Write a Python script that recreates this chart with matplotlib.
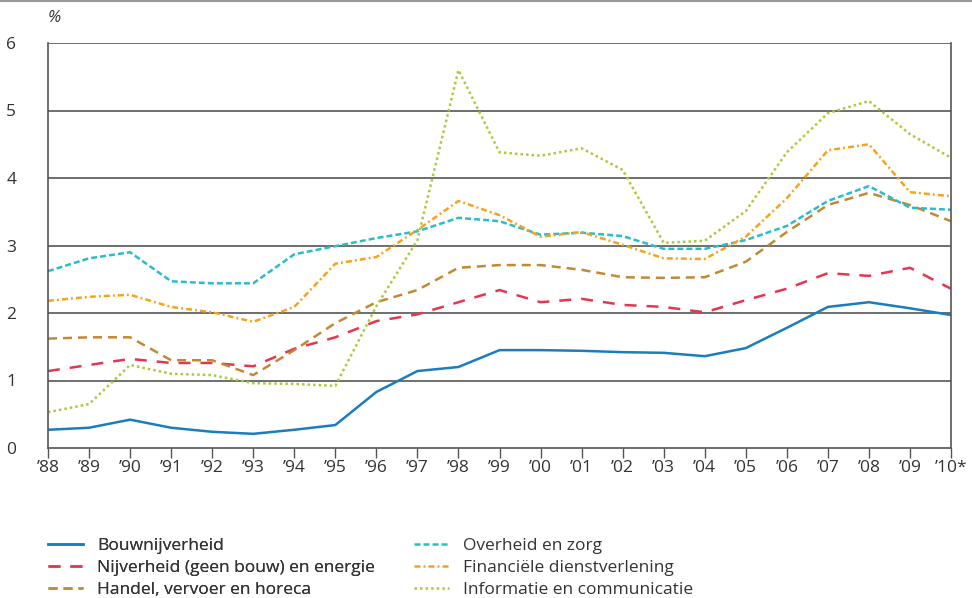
import matplotlib.pyplot as plt
import matplotlib.lines as mlines
import numpy as np

years = ["\u201988", "\u201989", "\u201990", "\u201991", "\u201992", "\u201993", "\u201994",
         "\u201995", "\u201996", "\u201997", "\u201998", "\u201999", "\u201900", "\u201901",
         "\u201902", "\u201903", "\u201904", "\u201905", "\u201906", "\u201907", "\u201908",
         "\u201909", "\u201910*"]

bouw = [0.27, 0.30, 0.42, 0.30, 0.24, 0.21, 0.27, 0.34, 0.83, 1.14, 1.20,
        1.45, 1.45, 1.44, 1.42, 1.41, 1.36, 1.48, 1.78, 2.09, 2.16, 2.07, 1.97]
nijverheid = [1.14, 1.23, 1.32, 1.26, 1.26, 1.21, 1.47, 1.64, 1.88, 1.98, 2.16,
              2.34, 2.16, 2.21, 2.12, 2.09, 2.01, 2.19, 2.36, 2.59, 2.55, 2.67, 2.36]
handel = [1.62, 1.64, 1.64, 1.30, 1.30, 1.08, 1.45, 1.85, 2.16, 2.34, 2.67,
          2.71, 2.71, 2.64, 2.53, 2.52, 2.53, 2.76, 3.20, 3.60, 3.78, 3.60, 3.36]
overheid = [2.62, 2.81, 2.90, 2.47, 2.44, 2.44, 2.87, 2.99, 3.11, 3.21, 3.41,
            3.36, 3.16, 3.19, 3.14, 2.95, 2.95, 3.08, 3.29, 3.66, 3.88, 3.56, 3.53]
financieel = [2.18, 2.24, 2.27, 2.09, 2.01, 1.87, 2.09, 2.73, 2.83, 3.23, 3.66,
              3.45, 3.13, 3.20, 3.01, 2.81, 2.80, 3.13, 3.70, 4.41, 4.50, 3.79, 3.73]
informatie = [0.53, 0.65, 1.23, 1.10, 1.08, 0.96, 0.95, 0.92, 2.10, 3.08, 5.60,
              4.38, 4.33, 4.44, 4.12, 3.04, 3.07, 3.51, 4.38, 4.96, 5.14, 4.65, 4.30]

labels = ["Bouwnijverheid", "Nijverheid (geen bouw) en energie", "Handel, vervoer en horeca",
          "Overheid en zorg", "Financiële dienstverlening", "Informatie en communicatie"]

plt.rcParams['font.family'] = ['Open Sans', 'DejaVu Sans']
plt.rcParams['lines.scale_dashes'] = False
text_col = "#333333"

fig = plt.figure(figsize=(9.72, 5.98), dpi=100)
ax = fig.add_axes([48 / 972, 1 - 448 / 598, (951 - 48) / 972, (448 - 43) / 598])

x = np.arange(len(years))
lw = 1.8
series = [
    (bouw, "#1a7dbf", None),
    (nijverheid, "#e8354f", (0, (8.6, 7.2))),
    (handel, "#c08a35", (0, (6.5, 4.3))),
    (overheid, "#2bbccc", (0, (4.3, 2.2))),
    (financieel, "#f5a31f", (0, (4.3, 2.2, 1.4, 2.2))),
    (informatie, "#a6cc3c", (0, (1.8, 2.2))),
]
handles = []
for (vals, col, dash), lab in zip(series, labels):
    line, = ax.plot(x, vals, color=col, lw=lw, label=lab)
    if dash is not None:
        line.set_linestyle(dash)
    handles.append(line)

ax.set_xlim(0, len(years) - 1)
ax.set_ylim(0, 6)
ax.set_yticks(range(0, 7))
for yv in range(1, 7):
    ax.axhline(yv, color="#555555", lw=1.2, zorder=0)

ax.set_xticks(x, labels=years)
ax.tick_params(axis="x", direction="out", length=7, width=1, color="#555555",
               labelsize=12.5, labelcolor=text_col, pad=2)
ax.tick_params(axis="y", length=0, labelsize=12.5, labelcolor=text_col, pad=30)
for lab in ax.get_yticklabels():
    lab.set_horizontalalignment("left")

ax.spines["top"].set_visible(False)
for s in ["left", "right", "bottom"]:
    ax.spines[s].set_color("#555555")
    ax.spines[s].set_linewidth(1.2)

fig.text(48 / 972, 1 - 18 / 598, "%", fontsize=12, color=text_col, style="italic",
         ha="left", va="center")

# grey rule at the very top
fig.add_artist(mlines.Line2D([0, 1], [1 - 1 / 598, 1 - 1 / 598], color="#999999", lw=1.5))

# two legend columns, placed separately
leg_kw = dict(loc="upper left", frameon=False, fontsize=12.5, handlelength=2.0,
              handletextpad=0.85, labelspacing=0.34, labelcolor=text_col,
              borderpad=0, borderaxespad=0)
leg1 = fig.legend(handles[:3], labels[:3], bbox_to_anchor=(48 / 972, 1 - 538 / 598), **leg_kw)
fig.legend(handles[3:], labels[3:], bbox_to_anchor=(414 / 972, 1 - 538 / 598), **leg_kw)
fig.add_artist(leg1)

fig.savefig("out.png", dpi=100)
